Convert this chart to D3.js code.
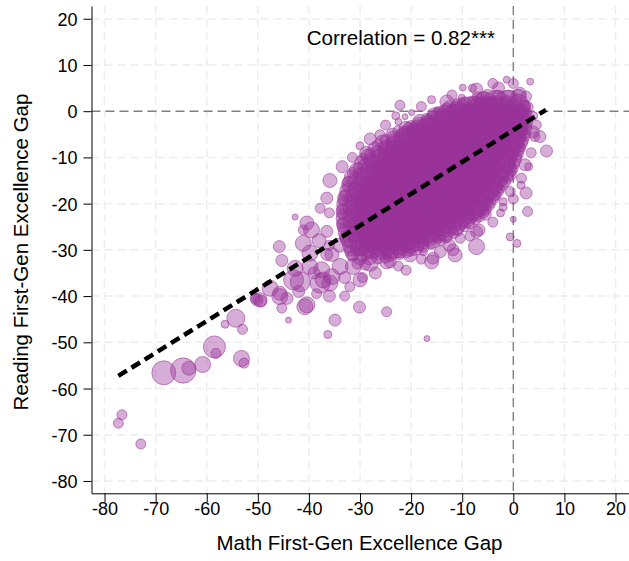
<!DOCTYPE html>
<html>
<head>
<meta charset="utf-8">
<script src="https://cdn.jsdelivr.net/npm/d3@7"></script>
<style>
  html, body { margin: 0; padding: 0; background: #fff; }
  svg { display: block; }
  text { font-family: "Liberation Sans", Arial, Helvetica, sans-serif; fill: #000; }
</style>
</head>
<body>
<svg id="chart" width="629" height="561"></svg>
<script>
// Axis ticks
const xTicks = [-80, -70, -60, -50, -40, -30, -20, -10, 0, 10, 20];
const yTicks = [-80, -70, -60, -50, -40, -30, -20, -10, 0, 10, 20];

// Districts: [math gap, reading gap, weight]
// Dense central cloud
const corePoints = [
  [-7,3,30],[-5,3.2,49],[-3,3,49],[-1,2.8,64],[1,3,64],[2.5,3.2,30],
  [-11,1.3,30],[-9.5,1.6,49],[-7.5,1.5,64],[-5.5,1.5,144],[-3.3,1.5,196],[-1.1,1.5,196],[1,1.5,100],[2.3,1.2,30],
  [-14.5,-0.2,30],[-13,0.2,49],[-11,0,100],[-8.8,0,196],[-6.6,0,196],[-4.4,0,196],[-2.2,0,196],[0,0,144],[1.8,0,49],[2.6,-0.3,20],
  [-17,-1.7,30],[-15.5,-1.3,49],[-13.5,-1.5,100],[-11.4,-1.5,196],[-9.2,-1.5,196],[-7,-1.5,196],[-4.8,-1.5,196],[-2.6,-1.5,196],[-0.4,-1.5,196],[1.5,-1.5,64],[2.6,-1.8,30],
  [-20,-3.2,30],[-18.5,-2.8,49],[-16.5,-3,100],[-14.3,-3,196],[-12.1,-3,196],[-9.9,-3,196],[-7.7,-3,196],[-5.5,-3,196],[-3.3,-3,196],[-1.1,-3,196],[1,-3,100],[2.5,-3.3,30],
  [-22.5,-4.3,30],[-21,-4.7,49],[-19,-4.5,100],[-16.8,-4.5,196],[-14.6,-4.5,196],[-12.4,-4.5,196],[-10.2,-4.5,196],[-8,-4.5,196],[-5.8,-4.5,196],[-3.6,-4.5,196],[-1.4,-4.5,196],[0.8,-4.5,100],[2.3,-4.8,30],
  [-25,-6.2,30],[-23.5,-5.8,49],[-21.5,-6,100],[-19.3,-6,196],[-17.1,-6,196],[-14.9,-6,196],[-12.7,-6,196],[-10.5,-6,196],[-8.3,-6,196],[-6.1,-6,196],[-3.9,-6,196],[-1.7,-6,196],[0.4,-6,100],[1.9,-6.3,30],
  [-26.5,-7.3,30],[-25,-7.7,49],[-23,-7.5,100],[-20.8,-7.5,196],[-18.6,-7.5,196],[-16.4,-7.5,196],[-14.2,-7.5,196],[-12,-7.5,196],[-9.8,-7.5,196],[-7.6,-7.5,196],[-5.4,-7.5,196],[-3.2,-7.5,196],[-1,-7.5,144],[0.8,-7.5,49],[1.6,-7.9,20],
  [-28,-9.2,30],[-26.5,-8.8,49],[-24.5,-9,100],[-22.3,-9,196],[-20.1,-9,196],[-17.9,-9,196],[-15.7,-9,196],[-13.5,-9,196],[-11.3,-9,196],[-9.1,-9,196],[-6.9,-9,196],[-4.7,-9,196],[-2.5,-9,196],[-0.5,-9,64],[0.9,-9.3,30],
  [-29.4,-10.3,30],[-28,-10.7,49],[-26,-10.5,100],[-23.8,-10.5,196],[-21.6,-10.5,196],[-19.4,-10.5,196],[-17.2,-10.5,196],[-15,-10.5,196],[-12.8,-10.5,196],[-10.6,-10.5,196],[-8.4,-10.5,196],[-6.2,-10.5,196],[-4,-10.5,196],[-1.8,-10.5,144],[0.2,-10.5,49],
  [-30.3,-12.2,30],[-29,-11.8,49],[-27,-12,100],[-24.8,-12,196],[-22.6,-12,196],[-20.4,-12,196],[-18.2,-12,196],[-16,-12,196],[-13.8,-12,196],[-11.6,-12,196],[-9.4,-12,196],[-7.2,-12,196],[-5,-12,196],[-2.8,-12,144],[-0.8,-12,49],[0.1,-12.4,20],
  [-31.4,-13.3,30],[-30,-13.7,49],[-28,-13.5,100],[-25.8,-13.5,196],[-23.6,-13.5,196],[-21.4,-13.5,196],[-19.2,-13.5,196],[-17,-13.5,196],[-14.8,-13.5,196],[-12.6,-13.5,196],[-10.4,-13.5,196],[-8.2,-13.5,196],[-6,-13.5,196],[-3.8,-13.5,144],[-1.6,-13.5,64],[-0.5,-13.8,30],
  [-32.3,-15.2,30],[-31,-14.8,49],[-29,-15,100],[-26.8,-15,196],[-24.6,-15,196],[-22.4,-15,196],[-20.2,-15,196],[-18,-15,196],[-15.8,-15,196],[-13.6,-15,196],[-11.4,-15,196],[-9.2,-15,196],[-7,-15,196],[-4.8,-15,144],[-2.8,-15,64],[-1.6,-15.3,30],
  [-32.5,-16.3,30],[-31,-16.7,49],[-29,-16.5,100],[-26.8,-16.5,196],[-24.6,-16.5,196],[-22.4,-16.5,196],[-20.2,-16.5,196],[-18,-16.5,196],[-15.8,-16.5,196],[-13.6,-16.5,196],[-11.4,-16.5,196],[-9.2,-16.5,196],[-7,-16.5,196],[-5,-16.5,144],[-3.4,-16.5,49],[-2.5,-16.8,20],
  [-33,-18.2,30],[-31.5,-17.8,49],[-29.5,-18,100],[-27.3,-18,196],[-25.1,-18,196],[-22.9,-18,196],[-20.7,-18,196],[-18.5,-18,196],[-16.3,-18,196],[-14.1,-18,196],[-11.9,-18,196],[-9.7,-18,196],[-7.5,-18,196],[-5.6,-18,100],[-4,-18,49],[-3.3,-18.3,20],
  [-33.3,-19.3,30],[-31.8,-19.7,49],[-29.8,-19.5,100],[-27.6,-19.5,196],[-25.4,-19.5,196],[-23.2,-19.5,196],[-21,-19.5,196],[-18.8,-19.5,196],[-16.6,-19.5,196],[-14.4,-19.5,196],[-12.2,-19.5,196],[-10,-19.5,196],[-7.8,-19.5,196],[-6,-19.5,100],[-4.5,-19.8,30],
  [-33.5,-21.2,30],[-32,-20.8,49],[-30,-21,100],[-27.8,-21,196],[-25.6,-21,196],[-23.4,-21,196],[-21.2,-21,196],[-19,-21,196],[-16.8,-21,196],[-14.6,-21,196],[-12.4,-21,196],[-10.2,-21,196],[-8.2,-21,144],[-6.5,-21,64],[-5.4,-21.3,30],
  [-33.5,-22.3,30],[-32,-22.7,49],[-30,-22.5,100],[-27.8,-22.5,196],[-25.6,-22.5,196],[-23.4,-22.5,196],[-21.2,-22.5,196],[-19,-22.5,196],[-16.8,-22.5,196],[-14.6,-22.5,196],[-12.4,-22.5,196],[-10.2,-22.5,144],[-8.4,-22.5,64],[-6.7,-22.8,30],
  [-33.5,-24.2,30],[-32,-23.8,49],[-30,-24,100],[-27.8,-24,196],[-25.6,-24,196],[-23.4,-24,196],[-21.2,-24,196],[-19,-24,196],[-16.8,-24,196],[-14.6,-24,196],[-12.4,-24,144],[-10.4,-24,64],[-8.6,-24.3,30],
  [-33.3,-25.3,30],[-31.8,-25.7,49],[-29.8,-25.5,100],[-27.6,-25.5,196],[-25.4,-25.5,196],[-23.2,-25.5,196],[-21,-25.5,196],[-18.8,-25.5,196],[-16.6,-25.5,196],[-14.6,-25.5,144],[-12.6,-25.5,64],[-10.9,-25.8,30],
  [-33,-27.2,30],[-31.5,-26.8,49],[-29.5,-27,100],[-27.3,-27,196],[-25.1,-27,196],[-22.9,-27,196],[-20.7,-27,196],[-18.5,-27,144],[-16.5,-27,100],[-14.6,-27,49],[-13.1,-27.3,30],
  [-32.5,-28.3,30],[-31,-28.7,49],[-29,-28.5,100],[-26.8,-28.5,144],[-24.6,-28.5,144],[-22.4,-28.5,144],[-20.2,-28.5,100],[-18.2,-28.5,64],[-16.2,-28.7,30],
  [-32,-30.2,30],[-30.5,-29.8,49],[-28.5,-30,81],[-26.3,-30,100],[-24.2,-30,81],[-22.2,-30,64],[-20.2,-30.2,30],
  [-31.5,-31.3,30],[-30,-31.7,49],[-28.2,-31.5,64],[-26.5,-31.5,49],[-25,-31.7,30],
  [-30.5,-33,30],[-29,-33.2,30]
];

// Districts along the rim of the cloud
const rimPoints = [
  [-12.5,0.75,49],[-10.5,0.9,81],[1.8,0.7,64],[2.8,0.9,30],
  [-15.5,-0.8,49],[-13.3,-0.6,81],[1.2,-0.75,81],[2.6,-0.9,30],
  [-18.3,-2.2,49],[-16,-2.3,81],[1.2,-2.25,81],[2.7,-2.4,30],
  [-21,-3.7,49],[-18.6,-3.8,81],[1,-3.75,81],[2.6,-3.9,30],
  [-23.6,-5.2,49],[-21.2,-5.3,81],[0.7,-5.25,81],[2.2,-5.4,30],
  [-25.6,-6.7,49],[-23.2,-6.8,81],[0.2,-6.75,81],[1.7,-6.9,30],
  [-27.1,-8.2,49],[-24.7,-8.3,81],[-0.4,-8.25,81],[1.1,-8.4,30],
  [-28.5,-9.7,49],[-26,-9.8,81],[-1,-9.75,81],[0.6,-9.9,30],
  [-29.7,-11.2,49],[-27.2,-11.3,81],[-1.5,-11.25,81],[0.1,-11.4,30],
  [-30.7,-12.7,49],[-28.2,-12.8,81],[-2.1,-12.75,81],[-0.4,-12.9,30],
  [-31.7,-14.2,49],[-29.2,-14.3,81],[-2.8,-14.25,81],[-1.1,-14.4,30],
  [-32.2,-15.7,49],[-29.8,-15.8,81],[-3.8,-15.75,81],[-2.1,-15.9,30],
  [-32.6,-17.2,49],[-30.6,-17.3,81],[-4.7,-17.25,81],[-3,-17.4,30],
  [-33,-18.7,49],[-30.9,-18.8,81],[-5.6,-18.75,81],[-3.9,-18.9,30],
  [-33.2,-20.2,49],[-31,-20.3,81],[-6.5,-20.25,81],[-4.8,-20.4,30],
  [-33.3,-21.7,49],[-31.1,-21.8,81],[-7.5,-21.75,81],[-5.8,-21.9,30],
  [-33.3,-23.2,49],[-31.1,-23.3,81],[-9.1,-23.25,81],[-7.4,-23.4,30],
  [-33.2,-24.7,49],[-31,-24.8,81],[-11.2,-24.75,81],[-9.5,-24.9,30],
  [-32.9,-26.2,49],[-30.7,-26.3,81],[-13.4,-26.25,81],[-11.7,-26.4,30],
  [-32.5,-27.7,49],[-30.3,-27.8,81],[-15.9,-27.75,81],[-14.2,-27.9,30],
  [-32,-29.2,49],[-29.8,-29.3,81],[-19.3,-29.25,81],[-17.6,-29.4,30],
  [-31.5,-30.7,49],[-29.5,-30.8,64],[-24,-30.75,64],[-22.3,-30.9,30]
];

// Districts in the middle of the cloud
const innerPoints = [
  [-7.7,0.75,144],[-5.5,0.75,144],[-3.3,0.75,144],[-1.1,0.75,144],
  [-10.3,-0.75,144],[-8.1,-0.75,144],[-5.9,-0.75,144],[-3.7,-0.75,144],[-1.5,-0.75,144],
  [-13.2,-2.25,144],[-11,-2.25,144],[-8.8,-2.25,144],[-6.6,-2.25,144],[-4.4,-2.25,144],[-2.2,-2.25,144],
  [-15.7,-3.75,144],[-13.5,-3.75,144],[-11.3,-3.75,144],[-9.1,-3.75,144],[-6.9,-3.75,144],[-4.7,-3.75,144],[-2.5,-3.75,144],
  [-18.2,-5.25,144],[-16,-5.25,144],[-13.8,-5.25,144],[-11.6,-5.25,144],[-9.4,-5.25,144],[-7.2,-5.25,144],[-5,-5.25,144],[-2.8,-5.25,144],
  [-19.7,-6.75,144],[-17.5,-6.75,144],[-15.3,-6.75,144],[-13.1,-6.75,144],[-10.9,-6.75,144],[-8.7,-6.75,144],[-6.5,-6.75,144],[-4.3,-6.75,144],
  [-21.2,-8.25,144],[-19,-8.25,144],[-16.8,-8.25,144],[-14.6,-8.25,144],[-12.4,-8.25,144],[-10.2,-8.25,144],[-8,-8.25,144],[-5.8,-8.25,144],[-3.6,-8.25,144],
  [-22.7,-9.75,144],[-20.5,-9.75,144],[-18.3,-9.75,144],[-16.1,-9.75,144],[-13.9,-9.75,144],[-11.7,-9.75,144],[-9.5,-9.75,144],[-7.3,-9.75,144],[-5.1,-9.75,144],
  [-23.7,-11.25,144],[-21.5,-11.25,144],[-19.3,-11.25,144],[-17.1,-11.25,144],[-14.9,-11.25,144],[-12.7,-11.25,144],[-10.5,-11.25,144],[-8.3,-11.25,144],[-6.1,-11.25,144],
  [-24.7,-12.75,144],[-22.5,-12.75,144],[-20.3,-12.75,144],[-18.1,-12.75,144],[-15.9,-12.75,144],[-13.7,-12.75,144],[-11.5,-12.75,144],[-9.3,-12.75,144],[-7.1,-12.75,144],[-4.9,-12.75,144],
  [-25.7,-14.25,144],[-23.5,-14.25,144],[-21.3,-14.25,144],[-19.1,-14.25,144],[-16.9,-14.25,144],[-14.7,-14.25,144],[-12.5,-14.25,144],[-10.3,-14.25,144],[-8.1,-14.25,144],[-5.9,-14.25,144],
  [-25.7,-15.75,144],[-23.5,-15.75,144],[-21.3,-15.75,144],[-19.1,-15.75,144],[-16.9,-15.75,144],[-14.7,-15.75,144],[-12.5,-15.75,144],[-10.3,-15.75,144],[-8.1,-15.75,144],
  [-28.4,-17.25,144],[-26.2,-17.25,144],[-24,-17.25,144],[-21.8,-17.25,144],[-19.6,-17.25,144],[-17.4,-17.25,144],[-15.2,-17.25,144],[-13,-17.25,144],[-10.8,-17.25,144],[-8.6,-17.25,144],
  [-28.7,-18.75,144],[-26.5,-18.75,144],[-24.3,-18.75,144],[-22.1,-18.75,144],[-19.9,-18.75,144],[-17.7,-18.75,144],[-15.5,-18.75,144],[-13.3,-18.75,144],[-11.1,-18.75,144],[-8.9,-18.75,144],
  [-28.7,-20.25,144],[-26.5,-20.25,144],[-24.3,-20.25,144],[-22.1,-20.25,144],[-19.9,-20.25,144],[-17.7,-20.25,144],[-15.5,-20.25,144],[-13.3,-20.25,144],[-11.1,-20.25,144],[-9.5,-20.25,144],
  [-28.9,-21.75,144],[-26.7,-21.75,144],[-24.5,-21.75,144],[-22.3,-21.75,144],[-20.1,-21.75,144],[-17.9,-21.75,144],[-15.7,-21.75,144],[-13.5,-21.75,144],[-11.3,-21.75,144],
  [-28.9,-23.25,144],[-26.7,-23.25,144],[-24.5,-23.25,144],[-22.3,-23.25,144],[-20.1,-23.25,144],[-17.9,-23.25,144],[-15.7,-23.25,144],[-13.5,-23.25,144],
  [-28.7,-24.75,144],[-26.5,-24.75,144],[-24.3,-24.75,144],[-22.1,-24.75,144],[-19.9,-24.75,144],[-17.7,-24.75,144],[-15.5,-24.75,144],
  [-28.4,-26.25,144],[-26.2,-26.25,144],[-24,-26.25,144],[-21.8,-26.25,144],[-19.6,-26.25,144],[-17.4,-26.25,144],
  [-28,-27.75,144],[-25.8,-27.75,144],[-23.6,-27.75,144],[-21.4,-27.75,144],[-19.2,-27.75,144],
  [-27.6,-29.25,144],[-25.4,-29.25,144],[-23.3,-29.25,144]
];

// Districts around the edge of the cloud
const fringePoints = [
  [3.3,6.4,12],[-1.3,6.8,12],[-2.9,5,36],[-7.2,4.8,36],[-9.9,5.1,12],[-10.1,2.9,12],[-13,2,49],[-5.9,2.8,49],[1.3,3.9,36],
  [-22.2,1.3,25],[-19.9,-0.3,9],[-21.2,-1.2,9],[-22.5,-2.3,12],[-20.5,-3.7,36],[-15,0.3,9],[-26.1,-5.1,25],[-28.7,-9.1,49],
  [-35.9,-15,49],[-36.5,-18.8,36],[-37.8,-21,25],[-40.4,-24.2,49],[-41.1,-25.7,25],[-42.7,-22.9,9],
  [4.2,-5.5,25],[5.2,-5.5,36],[6.5,-8.6,36],[3.9,-4.5,36],[2.3,-11.6,36],[1.6,-14.5,25],[-0.6,-17.4,25],[2.5,-17.7,36],
  [2.8,-21.7,25],[0,-23.4,9],[-0.6,-27.2,16],[0.7,-28.6,16],[-2,-19.6,16],[-2,-20.8,16],[-5.5,-22.3,36],[-6.7,-25.7,36],
  [-7.2,-29.3,64],[-7.2,-26.1,36],[-11.4,-31.1,49],[-10.4,-27.5,25],[-14.3,-30.4,36],[-16,-32.6,49],[-17.6,-30.4,16],
  [-20.2,-31.1,49],[-21,-34.4,25],[-24.1,-32.6,36],[-20.9,-30.4,36],[-15.7,-31.8,36],[-11.8,-30,36],
  [-24.8,-43.4,25],[-16.9,-49.2,9],[-30.1,-42.4,36],
  [-33.5,-12,36],[-31.5,-10,25],[-30,-7.5,16],[-28,-6,36],[-25,-3,25],[-23,-1,16],[-18,1,25],[-16,2.5,16],[-12,3.5,25],
  [-8,5,16],[-4,6,25],[0,6,25],[-36,-22,25],[-36.5,-26,36],[-36,-29,25],[-35.5,-31,49],
  [4,-1,16],[4.5,-3,25],[3.5,-9,25],[3,-12,16],[1.5,-16,16],[0,-19,25],[-2.5,-22,16],[-4,-24,25],[-8.5,-27,25],
  [-12.5,-29,36],[-18,-32,25],[-22.5,-33.5,25],[-27,-35,36],[-29.5,-36,25]
];

// Districts with the widest gaps
const tailPoints = [
  [-45.8,-29.3,36],[-45.3,-32.3,36],[-42.7,-34,64],[-41.7,-36.9,100],[-40.4,-41.9,64],[-44,-45.2,9],[-45.7,-39.4,49],
  [-49.6,-40.8,49],[-50.5,-40.5,25],[-34.9,-45.2,36],[-36.3,-48.3,16],[-37.8,-37.2,100],[-35.5,-35.8,64],[-32,-38,25],
  [-41.1,-28.6,64],[-39.8,-30.7,64],[-39.5,-25.7,64],[-37.5,-34.3,64],[-33.9,-33.6,64],[-31.3,-33.6,64],[-28,-32.9,64],
  [-24.8,-32.6,49],[-47.6,-38.3,64],[-45.7,-40.1,64],[-44.3,-40.5,36],[-45.3,-42.6,25],[-40.8,-42.3,64],[-43,-36.5,100],
  [-39.8,-33.6,64],[-37.2,-36.5,64],[-35.9,-37.2,64],[-38,-28,49],[-36.5,-31,36],[-34,-29,49],[-33,-36,36],[-30,-36.5,49],
  [-38.5,-39.5,25],[-42,-39,36],[-39,-35,36],[-36,-40,36],[-33,-40,25],
  [-54.3,-44.8,81],[-53,-47.2,25],[-56.4,-46.1,16],[-53.2,-53.5,64],[-52.7,-54.5,25],[-58.5,-51,121],[-58.2,-52.4,25],
  [-60.8,-54.8,64],[-63.5,-55.6,49],[-64.6,-56.1,160],[-68.4,-56.6,144],[-76.6,-65.7,25],[-77.3,-67.5,25],[-72.9,-72,25],
  [-50.2,-40.8,36],[-49.4,-41.1,36]
];

// Linear fit: reading = intercept + slope * math
const fitSlope = 0.688;
const fitIntercept = -4.1;
const fitRange = [-77.3, 6.4];
const correlationLabel = "Correlation = 0.82***";

const svg = d3.select("#chart");
const x = d3.scaleLinear().domain([-82.55, 22.64]).range([91.5, 629]);
const y = d3.scaleLinear().domain([-82.67, 22.76]).range([493.3, 6]);
const r = d3.scaleSqrt().domain([0, 144]).range([0, 12]);
const purple = "#993399";

// Grid
const grid = svg.append("g");
grid.selectAll("line.v").data(xTicks.filter(t => t !== 0)).join("line")
  .attr("x1", d => x(d)).attr("x2", d => x(d))
  .attr("y1", y.range()[1]).attr("y2", y.range()[0])
  .attr("stroke", "#ededed").attr("stroke-width", 1.5).attr("stroke-dasharray", "8,5");
grid.selectAll("line.h").data(yTicks.filter(t => t !== 0)).join("line")
  .attr("x1", x.range()[0]).attr("x2", x.range()[1])
  .attr("y1", d => y(d)).attr("y2", d => y(d))
  .attr("stroke", "#ededed").attr("stroke-width", 1.5).attr("stroke-dasharray", "8,5");

// Zero reference lines
svg.append("line")
  .attr("x1", x(0)).attr("x2", x(0)).attr("y1", y.range()[1]).attr("y2", y.range()[0])
  .attr("stroke", "#808080").attr("stroke-width", 1.4).attr("stroke-dasharray", "9,5");
svg.append("line")
  .attr("x1", x.range()[0]).attr("x2", x.range()[1]).attr("y1", y(0)).attr("y2", y(0))
  .attr("stroke", "#808080").attr("stroke-width", 1.4).attr("stroke-dasharray", "9,5");

// Points
const allPoints = tailPoints.concat(fringePoints, corePoints, rimPoints, innerPoints);
svg.append("g").selectAll("circle").data(allPoints).join("circle")
  .attr("cx", d => x(d[0])).attr("cy", d => y(d[1])).attr("r", d => r(d[2]))
  .attr("fill", purple).attr("fill-opacity", 0.4)
  .attr("stroke", purple).attr("stroke-opacity", 0.55).attr("stroke-width", 1);

// Fit line
svg.append("line")
  .attr("x1", x(fitRange[0])).attr("y1", y(fitIntercept + fitSlope * fitRange[0]))
  .attr("x2", x(fitRange[1])).attr("y2", y(fitIntercept + fitSlope * fitRange[1]))
  .attr("stroke", "#000").attr("stroke-width", 4.5).attr("stroke-dasharray", "10,5.5");

// Axes
const xAxis = svg.append("g").attr("transform", `translate(0,${y.range()[0]})`)
  .call(d3.axisBottom(x).tickValues(xTicks).tickSize(9).tickSizeOuter(0).tickFormat(d3.format("d")));
xAxis.selectAll("text").attr("y", 21.7).attr("dy", 0).style("font-size", "18px");
const yAxis = svg.append("g").attr("transform", `translate(${x.range()[0]},0)`)
  .call(d3.axisLeft(y).tickValues(yTicks).tickSize(8).tickSizeOuter(0).tickFormat(d3.format("d")));
yAxis.selectAll("text").attr("x", -14).attr("dy", "0.36em").style("font-size", "18px");
svg.selectAll(".domain, .tick line").attr("stroke", "#000").attr("stroke-width", 1);
svg.selectAll(".tick text").text(d => String(d));

// Titles
svg.append("text").attr("x", 359.5).attr("y", 550).attr("text-anchor", "middle")
  .style("font-size", "20.5px").text("Math First-Gen Excellence Gap");
svg.append("text").attr("transform", "translate(28,252) rotate(-90)").attr("text-anchor", "middle")
  .style("font-size", "20.5px").text("Reading First-Gen Excellence Gap");
svg.append("text").attr("x", 306.7).attr("y", 45)
  .style("font-size", "20.6px").text(correlationLabel);
</script>
</body>
</html>
